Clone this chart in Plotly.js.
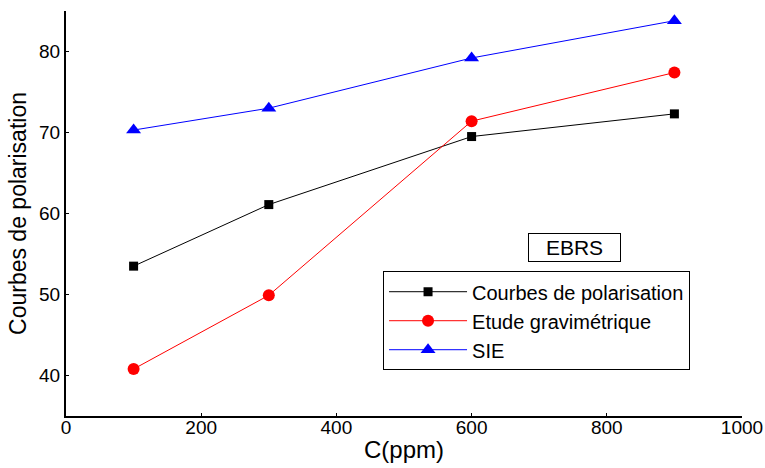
<!DOCTYPE html>
<html>
<head>
<meta charset="utf-8">
<script src="https://cdn.plot.ly/plotly-3.0.1.min.js"></script>
<style>html,body{margin:0;padding:0;background:#fff;}#chart{width:765px;height:468px;}</style>
</head>
<body>
<div id="chart"></div>
<script>
const concentrations = [100, 300, 600, 900];
const polarisation = [53.5, 61.1, 69.5, 72.3];
const gravimetrique = [40.8, 49.9, 71.4, 77.4];
const sie = [70.3, 73.0, 79.2, 83.8];
const seriesNames = ["Courbes de polarisation", "Etude gravimétrique", "SIE"];
const xTickValues = [0, 200, 400, 600, 800, 1000];
const yTickValues = [40, 50, 60, 70, 80];

const FONT = "Liberation Sans, Arial, sans-serif";

const traces = [
  {x: concentrations, y: polarisation, name: seriesNames[0], mode: "lines+markers",
   line: {color: "#000000", width: 1}, marker: {symbol: "square", size: 9, color: "#000000"}},
  {x: concentrations, y: gravimetrique, name: seriesNames[1], mode: "lines+markers",
   line: {color: "#ff0000", width: 1}, marker: {symbol: "circle", size: 12, color: "#ff0000"}},
  {x: concentrations, y: sie, name: seriesNames[2], mode: "lines+markers",
   line: {color: "#0000ff", width: 1}, marker: {symbol: "triangle-up", size: 13, color: "#0000ff"}}
];

const axisCommon = {
  showline: true, linecolor: "#000", linewidth: 2, mirror: false,
  ticks: "inside", ticklen: 3, tickwidth: 1, tickcolor: "#000",
  showgrid: false, zeroline: false,
  tickfont: {family: FONT, size: 19, color: "#000"},
  minor: {ticks: "inside", ticklen: 3, tickwidth: 1, tickcolor: "#000", nticks: 2, showgrid: false}
};

const layout = {
  width: 765, height: 468,
  margin: {l: 66, r: 23, t: 11, b: 52},
  paper_bgcolor: "#fff", plot_bgcolor: "#fff",
  font: {family: FONT, color: "#000"},
  showlegend: true,
  xaxis: Object.assign({}, axisCommon, {
    range: [0, 1000], tickvals: xTickValues, ticktext: xTickValues.map(String),
    ticklabelstandoff: -7,
    title: {text: "C(ppm)", font: {family: FONT, size: 24, color: "#000"}, standoff: 4}
  }),
  yaxis: Object.assign({}, axisCommon, {
    range: [35, 85], tickvals: yTickValues, ticktext: yTickValues.map(String),
    ticklabelstandoff: 0,
    title: {text: "Courbes de polarisation", font: {family: FONT, size: 23, color: "#000"}, standoff: 6}
  }),
  legend: {
    x: 0.469, y: 0.3575, xanchor: "left", yanchor: "top",
    bordercolor: "#000", borderwidth: 1, bgcolor: "#fff",
    font: {family: FONT, size: 20, color: "#000"},
    tracegroupgap: 0, itemwidth: 78
  },
  annotations: [{
    text: "EBRS", xref: "paper", yref: "paper", x: 0.752, y: 0.4156,
    xanchor: "center", yanchor: "middle", showarrow: false,
    font: {family: FONT, size: 21, color: "#000"},
    bordercolor: "#000", borderwidth: 1, borderpad: 0, width: 91, height: 27,
    bgcolor: "#fff"
  }]
};

Plotly.newPlot("chart", traces, layout, {displayModeBar: false, staticPlot: true});
</script>
</body>
</html>
